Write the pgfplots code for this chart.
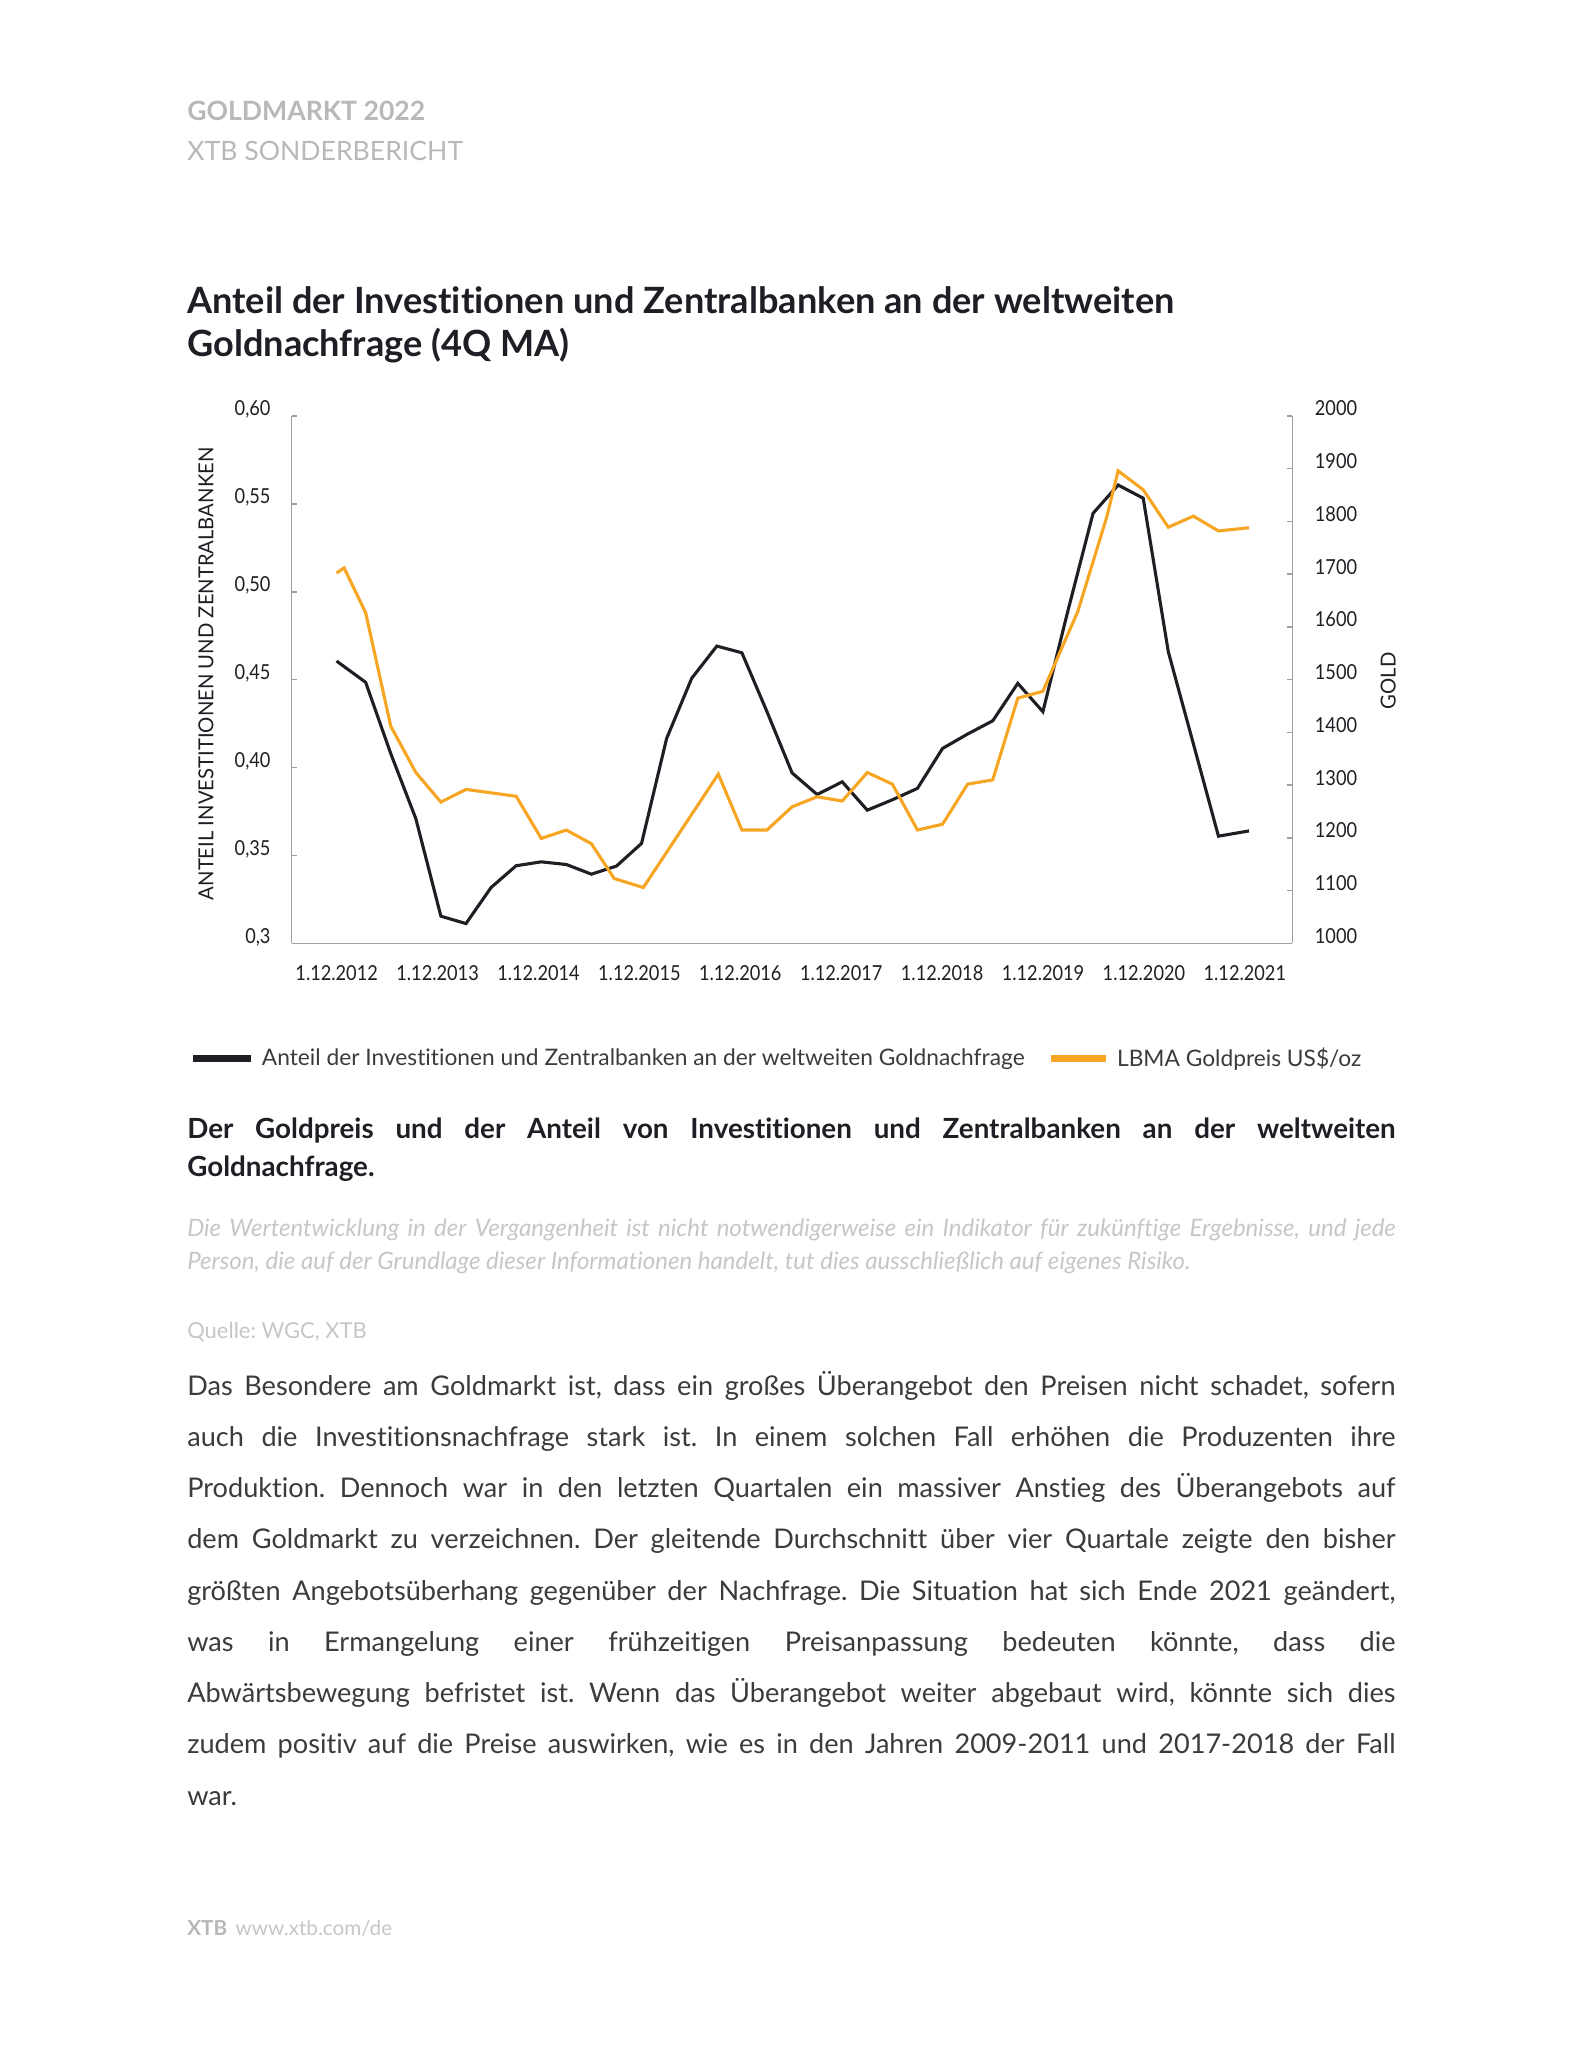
\documentclass[border=0pt]{standalone}
\usepackage{fontspec}
\setmainfont{Lato}[Ligatures=NoCommon]
\newfontfamily\condfont[FakeStretch=0.88,Ligatures=NoCommon]{Lato}
\newfontfamily\labelfont[FakeStretch=0.98,Ligatures=NoCommon]{Lato}
\usepackage{pgfplots}
\pgfplotsset{compat=1.18}
\usepackage{pgfplotstable}

\definecolor{darkline}{HTML}{1F1E24}
\definecolor{goldline}{HTML}{F6A623}
\definecolor{axisgray}{HTML}{A0A0A0}
\definecolor{headgray}{HTML}{B8B8B8}
\definecolor{bodygray}{HTML}{3B3B3B}
\definecolor{lightgray}{HTML}{C6C6C6}

% share of investment + central banks (4Q MA), quarter index
\pgfplotstableread{
x y
-0.16 0.4606
1 0.4485
2 0.408
3 0.371
4 0.3155
5 0.3113
6 0.3318
7 0.3442
8 0.3464
9 0.3449
10 0.3394
11 0.3440
12 0.3569
13 0.4166
14 0.4508
15 0.4691
16 0.4653
17 0.4318
18 0.3970
19 0.3847
20 0.3919
21 0.3758
22 0.3817
23 0.3882
24 0.4109
25 0.4191
26 0.4266
27 0.4479
28 0.4318
29 0.4893
30 0.5446
31 0.5607
32 0.5532
33 0.4659
34 0.4135
35 0.3610
36.22 0.3640
}\sharetable

% LBMA gold price US$/oz
\pgfplotstableread{
x y
-0.16 1702
0.14 1712
1 1627
2 1412
3 1324
4 1268
5 1292
7 1279
8 1199
9 1215
10 1189
10.91 1123
12.07 1106
15.06 1321
16 1215
17 1215
18 1259
19 1278
20 1270
21 1324
22 1302
23 1215
24 1226
25 1302
26 1310
27 1465
28 1478
29.39 1629
30.55 1809
31 1896
32 1860
33 1789
34 1810
35 1782
36.22 1788
}\goldtable

\pgfplotsset{
  chartbase/.style={
    at={(112.9pt,-365.2pt)}, anchor=south west,
    width=387.4pt, height=204.2pt, scale only axis,
    xmin=-1.95, xmax=37.95,
    axis line style={draw=axisgray, line width=0.6pt},
    major tick length=2pt, tick align=inside,
    ytick style={draw=axisgray, line width=0.6pt},
    ticklabel style={font=\condfont\fontsize{8}{9}\selectfont, text=darkline},
    label style={font=\labelfont\fontsize{8}{9}\selectfont, text=darkline},
  },
}

\begin{document}
\frenchspacing
\begin{tikzpicture}
\useasboundingbox (0,0) rectangle (612pt,-792pt);

% page header
\node[anchor=base west, inner sep=0pt, text=headgray, font=\bfseries\fontsize{10.3}{12}\selectfont] at (72.3pt,-46.5pt) {GOLDMARKT 2022};
\node[anchor=base west, inner sep=0pt, text=headgray, font=\fontsize{10.3}{12}\selectfont] at (72.3pt,-62.2pt) {XTB SONDERBERICHT};

% chart title
\node[anchor=base west, inner sep=0pt, text=darkline, font=\bfseries\fontsize{14}{16}\selectfont] at (72.3pt,-121.3pt) {Anteil der Investitionen und Zentralbanken an der weltweiten};
\node[anchor=base west, inner sep=0pt, text=darkline, font=\bfseries\fontsize{14}{16}\selectfont] at (72.3pt,-138.0pt) {Goldnachfrage (4Q MA)};

\begin{axis}[chartbase,
  ymin=0.3, ymax=0.6,
  axis x line*=bottom, axis y line*=left,
  xtick={-0.155,3.868,7.891,11.914,15.937,19.96,23.983,28.006,32.029,36.052},
  xticklabels={1.12.2012,1.12.2013,1.12.2014,1.12.2015,1.12.2016,1.12.2017,1.12.2018,1.12.2019,1.12.2020,1.12.2021},
  xtick style={draw=none},
  xticklabel style={anchor=base, inner sep=0pt, yshift=-14.2pt},
  ytick={0.3,0.35,0.4,0.45,0.5,0.55,0.6},
  yticklabels={{0,3},{0,35},{0,40},{0,45},{0,50},{0,55},{0,60}},
  yticklabel style={anchor=base east, inner sep=0pt, xshift=-8pt},
  ylabel={ANTEIL INVESTITIONEN UND ZENTRALBANKEN},
  ylabel style={at={(axis description cs:-0.0857,0.511)}, anchor=center},
]
\addplot[darkline, line width=1.2pt] table[x=x, y=y] {\sharetable};
\end{axis}

\begin{axis}[chartbase,
  ymin=1000, ymax=2000,
  hide x axis,
  axis y line*=right,
  ytick={1000,1100,1200,1300,1400,1500,1600,1700,1800,1900,2000},
  yticklabels={1000,1100,1200,1300,1400,1500,1600,1700,1800,1900,2000},
  yticklabel style={anchor=base west, inner sep=0pt, xshift=8.5pt},
  ylabel={GOLD},
  ylabel style={at={(axis description cs:1.0958,0.4976)}, anchor=center},
  legend columns=2,
  legend style={at={(axis description cs:-0.1022,-0.2194)}, anchor=west,
    draw=none, fill=none, inner sep=0pt,
    font=\fontsize{8.8}{10}\selectfont, text=bodygray,
    nodes={inner sep=0pt},
    /tikz/every odd column/.append style={column sep=3pt},
    /tikz/every even column/.append style={column sep=9pt}},
]
\addlegendimage{darkline, legend image code/.code={\draw[darkline, line width=2.6pt] (0pt,0.3pt) -- (22.3pt,0.3pt);}}
\addlegendentry{Anteil der Investitionen und Zentralbanken an der weltweiten Goldnachfrage}
\addplot[goldline, line width=1.2pt, legend image code/.code={\draw[goldline, line width=2.6pt] (0pt,0.3pt) -- (21.2pt,0.3pt);}] table[x=x, y=y] {\goldtable};
\addlegendentry{LBMA Goldpreis US\$/oz}
\end{axis}

% caption under the chart
\node[anchor=base west, inner sep=0pt, text=darkline, font=\bfseries\fontsize{10.75}{12}\selectfont] at (72.3pt,-440.8pt) {\makebox[467.7pt][s]{Der Goldpreis und der Anteil von Investitionen und Zentralbanken an der weltweiten}};
\node[anchor=base west, inner sep=0pt, text=darkline, font=\bfseries\fontsize{10.75}{12}\selectfont] at (72.3pt,-455.3pt) {Goldnachfrage.};

% disclaimer
\node[anchor=base west, inner sep=0pt, text=lightgray, font=\itshape\fontsize{9.3}{10}\selectfont] at (72.3pt,-478.8pt) {\makebox[467.7pt][s]{Die Wertentwicklung in der Vergangenheit ist nicht notwendigerweise ein Indikator für zukünftige Ergebnisse, und jede}};
\node[anchor=base west, inner sep=0pt, text=lightgray, font=\itshape\fontsize{9.3}{10}\selectfont] at (72.3pt,-491.5pt) {Person, die auf der Grundlage dieser Informationen handelt, tut dies ausschließlich auf eigenes Risiko.};

\node[anchor=base west, inner sep=0pt, text=lightgray, font=\fontsize{8.5}{10}\selectfont] at (72.3pt,-518pt) {Quelle: WGC, XTB};

% body text
\begin{scope}[every node/.style={anchor=base west, inner sep=0pt, text=bodygray, font=\fontsize{10.5}{12}\selectfont}]
\node at (72.3pt,-540pt) {\makebox[467.7pt][s]{Das Besondere am Goldmarkt ist, dass ein großes Überangebot den Preisen nicht schadet, sofern}};
\node at (72.3pt,-559.85pt) {\makebox[467.7pt][s]{auch die Investitionsnachfrage stark ist. In einem solchen Fall erhöhen die Produzenten ihre}};
\node at (72.3pt,-579.7pt) {\makebox[467.7pt][s]{Produktion. Dennoch war in den letzten Quartalen ein massiver Anstieg des Überangebots auf}};
\node at (72.3pt,-599.55pt) {\makebox[467.7pt][s]{dem Goldmarkt zu verzeichnen. Der gleitende Durchschnitt über vier Quartale zeigte den bisher}};
\node at (72.3pt,-619.4pt) {\makebox[467.7pt][s]{größten Angebotsüberhang gegenüber der Nachfrage. Die Situation hat sich Ende 2021 geändert,}};
\node at (72.3pt,-639.25pt) {\makebox[467.7pt][s]{was in Ermangelung einer frühzeitigen Preisanpassung bedeuten könnte, dass die}};
\node at (72.3pt,-659.1pt) {\makebox[467.7pt][s]{Abwärtsbewegung befristet ist. Wenn das Überangebot weiter abgebaut wird, könnte sich dies}};
\node at (72.3pt,-678.95pt) {\makebox[467.7pt][s]{zudem positiv auf die Preise auswirken, wie es in den Jahren 2009-2011 und 2017-2018 der Fall}};
\node at (72.3pt,-698.8pt) {war.};
\end{scope}

% footer
\node[anchor=base west, inner sep=0pt, text=headgray, font=\bfseries\fontsize{8}{10}\selectfont] at (72.3pt,-749.3pt) {XTB};
\node[anchor=base west, inner sep=0pt, text=lightgray, font=\fontsize{8}{10}\selectfont] at (91pt,-749.3pt) {www.xtb.com/de};
\end{tikzpicture}
\end{document}
